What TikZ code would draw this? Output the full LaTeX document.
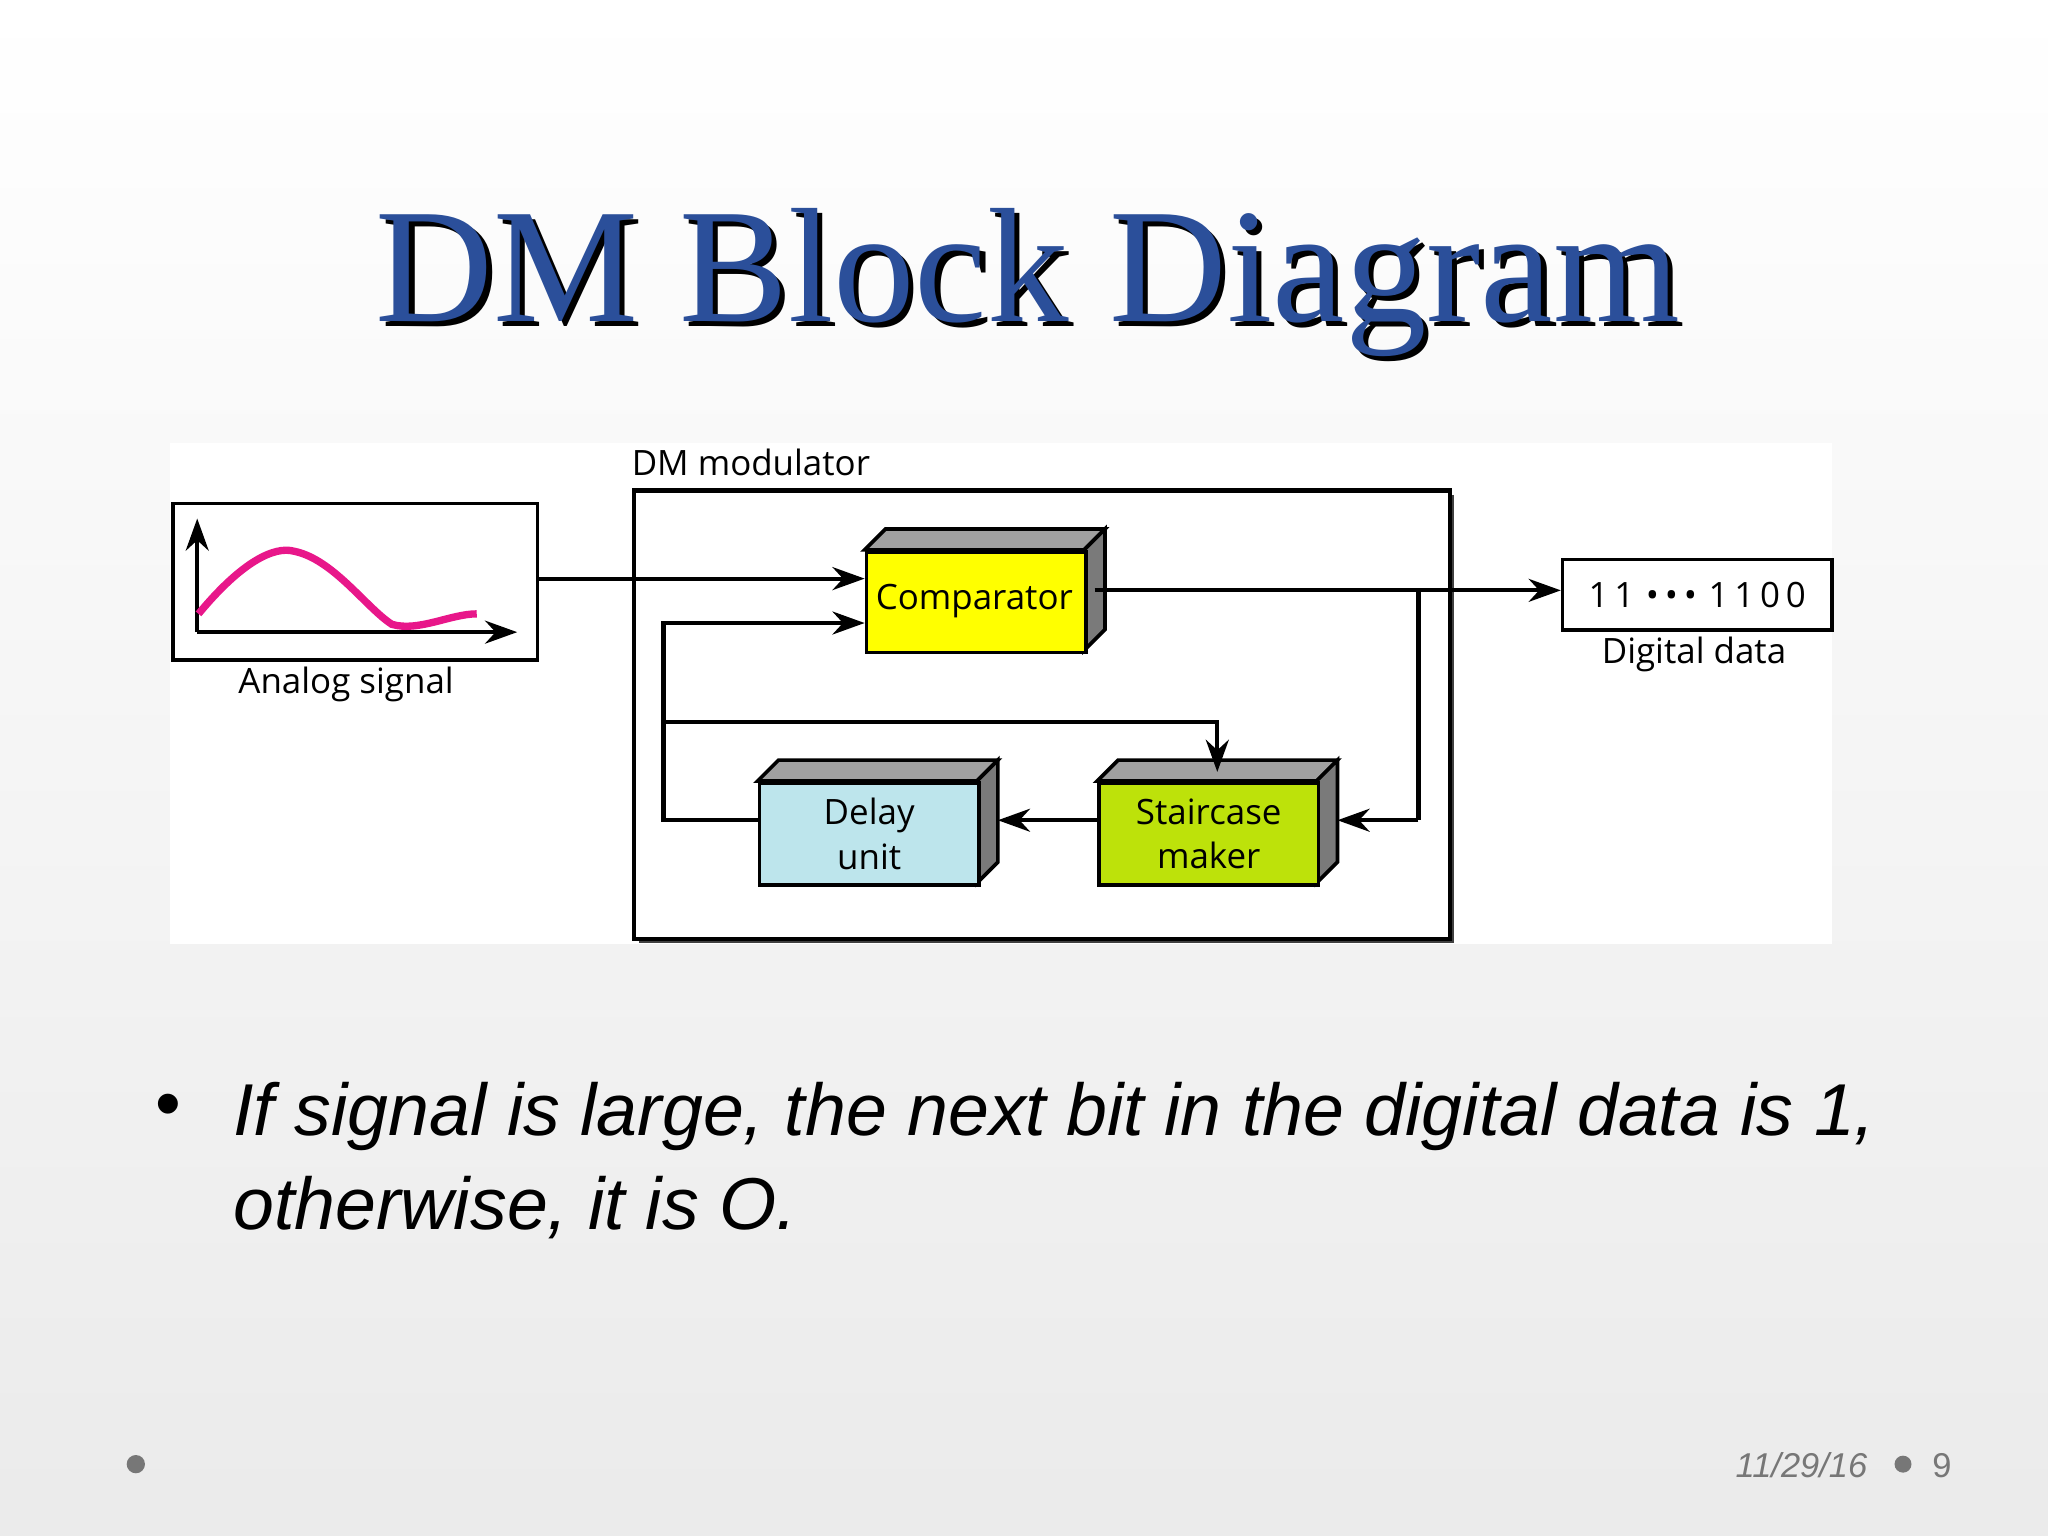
\documentclass[tikz,border=0pt]{standalone}
\usepackage{fontspec}
\setmainfont{Liberation Serif}
\setsansfont{Open Sans}
\newfontfamily\bodyfont{Liberation Sans}
\usetikzlibrary{arrows.meta}
\definecolor{titleblue}{HTML}{2B4F9A}
\definecolor{pinkc}{HTML}{E8178A}
\definecolor{yel}{HTML}{FFFF00}
\definecolor{grn}{HTML}{BDE20A}
\definecolor{lblue}{HTML}{BDE5EC}
\definecolor{sidegray}{HTML}{7A7A7A}
\definecolor{topgray}{HTML}{A0A0A0}
\definecolor{footgray}{HTML}{777777}
\tikzset{
  lbl/.style={font=\sffamily\fontsize{7.6}{9}\selectfont, inner sep=0pt},
  conn/.style={draw=black, line width=0.9pt},
  arr/.style={conn, -{Stealth[length=7pt,width=5pt]}},
  front/.style={draw=black, line width=0.8pt, inner sep=0pt, align=center},
}
\begin{document}
\begin{tikzpicture}[x=0.01cm,y=-0.01cm]
\shade[top color=white, bottom color=white!92!black] (0,0) rectangle (1568,1176);
\useasboundingbox (0,0) rectangle (1568,1176);
% title
\node[font=\fontsize{35.5}{40}\selectfont, text=black] at (791,220) {DM Block Diagram};
\node[font=\fontsize{35.5}{40}\selectfont, text=titleblue] (title) at (787,216) {DM Block Diagram};
% white panel
\fill[white] (130,339) rectangle (1403,723);
% analog box
\node[draw, line width=0.8pt, minimum width=2.79cm, minimum height=1.20cm, inner sep=0pt, anchor=north west] (analog) at (131,384) {};
\coordinate (o) at (151,484);
\coordinate (ytop) at (151,397);
\coordinate (xend) at (396,484);
\draw[line width=0.9pt, -{Stealth[length=7pt,width=5pt]}] (o) -- (ytop);
\draw[line width=0.9pt, -{Stealth[length=7pt,width=5pt]}] (o) -- (xend);
\draw[pinkc, line width=1.6pt] (152,470) .. controls (185,430) and (210,418) .. (225,422) .. controls (255,428) and (280,465) .. (300,478) .. controls (320,484) and (345,470) .. (365,470);
\node[lbl] (alab) at (265,524) {Analog signal};
% modulator
\fill[black!75] (489,379) rectangle (1113,722);
\node[draw, fill=white, line width=0.9pt, minimum width=6.24cm, minimum height=3.43cm, inner sep=0pt, anchor=north west] (mod) at (484,374) {};
\node[lbl, anchor=west] (modlab) at (483,354) {DM modulator};
% comparator
\fill[topgray, draw=black, line width=0.8pt] (662,421) -- (678,405) -- (846,405) -- (830,421) -- cycle;
\fill[sidegray, draw=black, line width=0.8pt] (830,421) -- (846,405) -- (846,482) -- (830,498) -- cycle;
\node[front, fill=yel, minimum width=1.68cm, minimum height=0.77cm, anchor=north west] (comp) at (662,421) {};
\node[lbl] at (746,460) {Comparator};
% staircase
\fill[topgray, draw=black, line width=0.8pt] (840,598) -- (856,582) -- (1024,582) -- (1008,598) -- cycle;
\fill[sidegray, draw=black, line width=0.8pt] (1008,598) -- (1024,582) -- (1024,660) -- (1008,676) -- cycle;
\node[front, fill=grn, minimum width=1.68cm, minimum height=0.78cm, anchor=north west] (stair) at (840,598) {};
\node[lbl, align=center, font=\sffamily\fontsize{7.6}{9.6}\selectfont] at (stair.center) {Staircase\\maker};
% delay
\fill[topgray, draw=black, line width=0.8pt] (580,598) -- (596,582) -- (764,582) -- (748,598) -- cycle;
\fill[sidegray, draw=black, line width=0.8pt] (748,598) -- (764,582) -- (764,660) -- (748,676) -- cycle;
\node[front, fill=lblue, minimum width=1.68cm, minimum height=0.78cm, anchor=north west] (delay) at (580,598) {};
\node[lbl, align=center, font=\sffamily\fontsize{7.6}{9.6}\selectfont] at (delay.center) {Delay\\unit};
% digital data
\node[draw, line width=0.8pt, minimum width=2.06cm, minimum height=0.54cm, inner sep=0pt, anchor=north west] (dig) at (1195,427) {};
\node[lbl] at (dig.center) {1\,1\,\,•\,•\,•\,\,1\,1\,0\,0};
\node[lbl] (dlab) at (1297,501) {Digital data};
% connectors
\coordinate (ain) at (662,443);
\draw[arr] (analog.east |- ain) -- (ain);
\coordinate (cout) at (838,452);
\coordinate (br) at (1086,452);
\draw[arr] (cout) -- (dig.west |- cout);
\coordinate (sin) at (1024,628);
\draw[conn] (br) -- (1086,628);
\draw[arr] (1086,628) -- (sin);
\coordinate (din) at (764,628);
\draw[arr] (stair.west |- din) -- (din);
\coordinate (fb) at (662,477);
\coordinate (lft) at (508,628);
\draw[arr] (delay.west |- lft) -- (lft) -- (508,477) -- (fb);
\coordinate (sp) at (508,553);
\coordinate (stop) at (932,591);
\draw[arr] (sp) -- (932,553) -- (stop);
% bullet text
\node[font=\bodyfont\fontsize{16}{20}\selectfont] (bul) at (129,851) {•};
\node[font=\bodyfont\itshape\fontsize{16}{20.5}\selectfont, anchor=north west, align=left, inner sep=0pt] (txt) at (178,828) {If signal is large, the next bit in the digital data is 1,\\otherwise, it is O.};
% footer
\fill[footgray] (104,1121) circle (7);
\node[font=\bodyfont\itshape\fontsize{7.5}{9}\selectfont, text=footgray, anchor=east] (date) at (1442,1122) {11/29/16};
\fill[footgray] (1457,1121) circle (6.5);
\node[font=\bodyfont\fontsize{7.5}{9}\selectfont, text=footgray, anchor=west] (pg) at (1467,1122) {9};
\end{tikzpicture}
\end{document}
